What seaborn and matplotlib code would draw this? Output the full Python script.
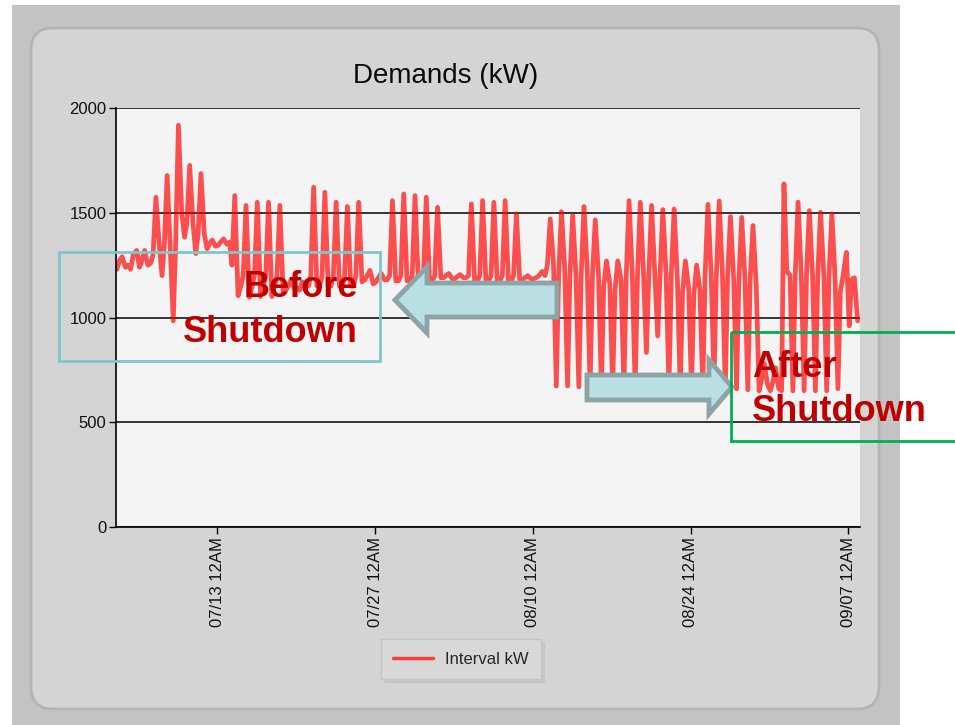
import matplotlib
matplotlib.use("Agg")
import matplotlib.pyplot as plt
from matplotlib import font_manager
from matplotlib.lines import Line2D
from matplotlib.patches import Rectangle, FancyBboxPatch, Polygon
import pandas as pd
import seaborn as sns

# one row per calendar day starting 07/04 (kW)
START_DAY = "2014-07-04"
SLOT_HOURS = [2, 7, 13, 20]

NIGHT_KW = [1230, 1250, 1240, 1260, 1200, 984, 1383, 1305, 1328, 1345,
            1360, 1150, 1150, 1150, 1150, 1130, 1140, 1150, 1150, 1150,
            1150, 1150, 1180, 1170, 1180, 1175, 1175, 1175, 1175, 1190,
            1185, 1190, 1175, 1175, 1175, 1175, 1180, 1185, 1200, 673,
            673, 669, 665, 665, 665, 665, 665, 833, 912, 665,
            660, 660, 660, 700, 660, 660, 655, 650, 650, 650,
            650, 650, 650, 650, 660, 960]
MORNING_KW = [1270, 1230, 1270, 1300, 1350, 1350, 1450, 1400, 1350, 1360,
              1250, 1200, 1200, 1200, 1200, 1150, 1130, 1200, 1200, 1200,
              1200, 1200, 1200, 1190, 1200, 1200, 1200, 1200, 1200, 1200,
              1195, 1200, 1200, 1200, 1200, 1200, 1190, 1190, 1250, 1200,
              1200, 1200, 1200, 1150, 1130, 1200, 1200, 1200, 1200, 1200,
              1120, 1110, 1200, 1200, 1200, 1180, 1180, 700, 690, 1638,
              1200, 1200, 1200, 1200, 1120, 1180]
PEAK_KW = [1290, 1300, 1320, 1574, 1678, 1918, 1726, 1687, 1370, 1375,
           1582, 1535, 1550, 1550, 1535, 1180, 1170, 1622, 1598, 1550,
           1530, 1550, 1225, 1210, 1558, 1590, 1582, 1574, 1526, 1210,
           1205, 1542, 1558, 1550, 1558, 1495, 1200, 1200, 1471, 1505,
           1487, 1530, 1466, 1270, 1270, 1558, 1550, 1535, 1515, 1518,
           1270, 1250, 1540, 1556, 1482, 1478, 1439, 780, 760, 1223,
           1551, 1510, 1502, 1495, 1200, 1190]
EVENING_KW = [1240, 1320, 1250, 1350, 1300, 1500, 1450, 1400, 1340, 1350,
              1104, 1096, 1100, 1100, 1120, 1140, 1150, 1150, 1150, 1150,
              1150, 1170, 1160, 1180, 1175, 1175, 1175, 1175, 1190, 1185,
              1190, 1175, 1175, 1175, 1175, 1180, 1185, 1220, 1257, 1230,
              1200, 1220, 1200, 1160, 1180, 1200, 1200, 1200, 1200, 1180,
              1140, 1130, 1200, 1200, 1180, 1180, 1150, 680, 660, 1200,
              1200, 1200, 1200, 1180, 1311, 984]

TICK_DAYS = ["2014-07-13", "2014-07-27", "2014-08-10", "2014-08-24", "2014-09-07"]
TICK_LABELS = ["07/13 12AM", "07/27 12AM", "08/10 12AM", "08/24 12AM", "09/07 12AM"]
Y_TICKS = [0, 500, 1000, 1500, 2000]

days = pd.date_range(START_DAY, periods=len(NIGHT_KW), freq="D")
rows = []
for day, vals in zip(days, zip(NIGHT_KW, MORNING_KW, PEAK_KW, EVENING_KW)):
    for h, v in zip(SLOT_HOURS, vals):
        rows.append({"time": day + pd.Timedelta(hours=h), "kW": v})
df = pd.DataFrame(rows)

sns.set_theme(style="white")
installed = {f.name for f in font_manager.fontManager.ttflist}
narrow = "Liberation Sans Narrow" if "Liberation Sans Narrow" in installed else "Liberation Sans"
plt.rcParams["font.family"] = ["Liberation Sans", "DejaVu Sans"]

fig = plt.figure(figsize=(9.55, 7.25), dpi=100)
fig.patch.set_facecolor("white")

# grey frame + rounded panel behind the chart
bg = fig.add_axes([0, 0, 1, 1], zorder=0)
bg.set_xlim(0, 955)
bg.set_ylim(725, 0)
bg.axis("off")
bg.add_patch(Rectangle((12, 5), 888, 725, facecolor="#C3C3C3", edgecolor="none"))
bg.add_patch(FancyBboxPatch((31, 28), 848, 681, boxstyle="round,pad=0,rounding_size=22",
                            facecolor="#D4D4D4", edgecolor="#B4B4B4", lw=2))

ax = fig.add_axes([116 / 955, 1 - 527 / 725, 744 / 955, 419 / 725], zorder=1)
ax.set_facecolor("#F4F4F4")
sns.lineplot(data=df, x="time", y="kW", ax=ax, color="#FF0000", lw=3.4, alpha=0.68,
             estimator=None, legend=False)

ax.set_xlim(pd.Timestamp("2014-07-04"), pd.Timestamp("2014-09-08 01:00"))
ax.set_ylim(0, 2000)
ax.set_yticks(Y_TICKS)
ax.set_yticklabels([str(v) for v in Y_TICKS], fontfamily=narrow, fontsize=12)
ax.set_xticks(pd.to_datetime(TICK_DAYS))
ax.set_xticklabels(TICK_LABELS, rotation=90, fontsize=12)
ax.set_xlabel("")
ax.set_ylabel("")
ax.yaxis.grid(True, color="black", lw=1.1)
ax.xaxis.grid(False)
ax.set_axisbelow(True)
for side in ["top", "right"]:
    ax.spines[side].set_visible(False)
for side in ["left", "bottom"]:
    ax.spines[side].set_color("black")
    ax.spines[side].set_linewidth(1.2)
ax.tick_params(axis="both", direction="out", length=5, width=1, color="black",
               labelcolor="#111111", bottom=True, left=True, pad=2)

fig.text(446 / 955, 1 - 76 / 725, "Demands (kW)", ha="center", va="center",
         fontsize=20, color="#0A0A0A")

fig.legend(handles=[Line2D([0], [0], color="#FF3B3B", lw=2.5)], labels=["Interval kW"],
           loc="center", bbox_to_anchor=(461 / 955, 1 - 659 / 725),
           frameon=True, facecolor="#D8D8D8", edgecolor="#C4C4C4", framealpha=1,
           fancybox=False, shadow={"color": "#BDBDBD"},
           prop={"family": narrow, "size": 12}, handlelength=2.4, borderpad=0.75,
           handletextpad=0.7)

# annotation layer, in pixel units
ov = fig.add_axes([0, 0, 1, 1], zorder=3)
ov.set_xlim(0, 955)
ov.set_ylim(725, 0)
ov.axis("off")

arrow_fill = "#B9DFE2"
arrow_edge = "#8DA4A6"
ov.add_patch(Polygon([(395, 300), (427, 267), (427, 283), (557, 283), (557, 317),
                      (427, 317), (427, 333)], closed=True,
                     facecolor=arrow_fill, edgecolor=arrow_edge, lw=3.5, joinstyle="miter"))
ov.add_patch(Polygon([(587, 375), (709, 375), (709, 360), (732, 387), (709, 414),
                      (709, 400), (587, 400)], closed=True,
                     facecolor=arrow_fill, edgecolor=arrow_edge, lw=3.5, joinstyle="miter"))

ov.add_patch(Rectangle((59, 252), 321, 109, fill=False, edgecolor="#7DC7CA", lw=2))
ov.add_patch(Rectangle((731, 332), 240, 109, fill=False, edgecolor="#00B050", lw=2))

note = dict(fontsize=26, fontweight="bold", color="#C00000", va="baseline")
ov.text(358, 297, "Before", ha="right", **note)
ov.text(358, 342, "Shutdown", ha="right", **note)
ov.text(752, 377, "After", ha="left", **note)
ov.text(752, 421, "Shutdown", ha="left", **note)

fig.savefig("out.png", dpi=100)
